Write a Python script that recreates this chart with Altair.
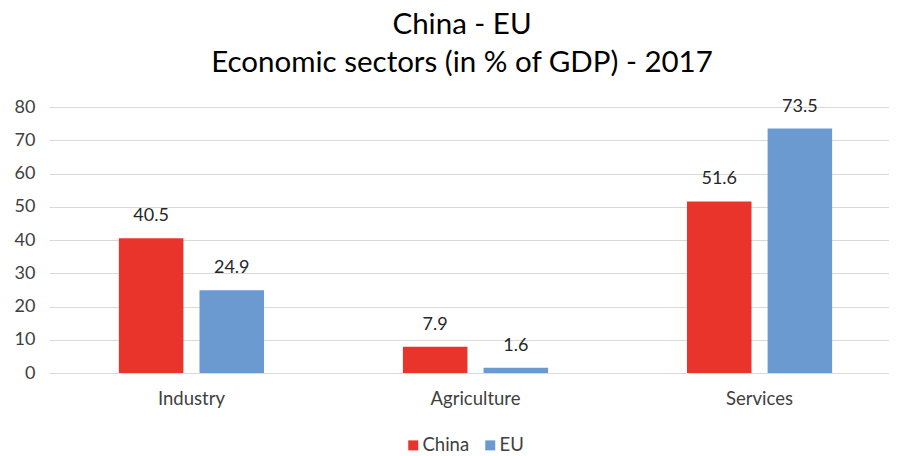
import altair as alt
import pandas as pd

sectors = ["Industry", "Agriculture", "Services"]
china = [40.5, 7.9, 51.6]
eu = [24.9, 1.6, 73.5]
regions = ["China", "EU"]
colors = ["#E8342A", "#6A9AD0"]

rows = []
for i, s in enumerate(sectors):
    rows.append({"sector": s, "region": "China", "value": china[i]})
    rows.append({"sector": s, "region": "EU", "value": eu[i]})
df = pd.DataFrame(rows)

FONT = "Lato"

base = alt.Chart(df).encode(
    x=alt.X("sector:N", sort=sectors, title=None,
            scale=alt.Scale(paddingInner=0.489, paddingOuter=0.246, range=[0, 853]),
            axis=alt.Axis(labelAngle=0, labelFontSize=18.5, labelColor="#404040",
                          labelFont=FONT, ticks=False, domain=False,
                          labelPadding=16)),
    xOffset=alt.XOffset("region:N", sort=regions,
                        scale=alt.Scale(paddingInner=0.2, paddingOuter=0)),
    y=alt.Y("value:Q", title=None,
            scale=alt.Scale(domain=[0, 80]),
            axis=alt.Axis(values=list(range(0, 81, 10)), labelFontSize=18,
                          labelColor="#404040", labelFont=FONT, ticks=False,
                          domain=False, gridColor="#d9d9d9", labelPadding=14)),
)

bars = base.mark_bar().encode(
    color=alt.Color("region:N", sort=regions,
                    scale=alt.Scale(domain=regions, range=colors),
                    legend=alt.Legend(title=None, orient="none", direction="horizontal",
                                      legendX=355, legendY=329, labelFontSize=18.5,
                                      labelFont=FONT, labelColor="#404040",
                                      symbolType="square", symbolSize=100,
                                      labelOffset=0,
                                      symbolStrokeWidth=0, columnPadding=11)),
)

labels = base.mark_text(baseline="bottom", dy=-13, fontSize=18, font=FONT,
                        color="#262626").encode(
    text=alt.Text("value:Q", format=".1f"),
)

chart = (bars + labels).properties(
    width=840, height=266,
    title=alt.TitleParams(["China - EU", "Economic sectors (in % of GDP) - 2017"],
                          fontSize=29.5, font=FONT, fontWeight="normal", color="#000000",
                          anchor="middle", dx=-7, offset=19, lineHeight=38),
    autosize=alt.AutoSizeParams(type="none"),
    padding={"left": 41, "top": 99, "right": 0, "bottom": 82},
).configure_view(stroke=None)

chart.save("out.html", embed_options={"renderer": "svg", "actions": False})
